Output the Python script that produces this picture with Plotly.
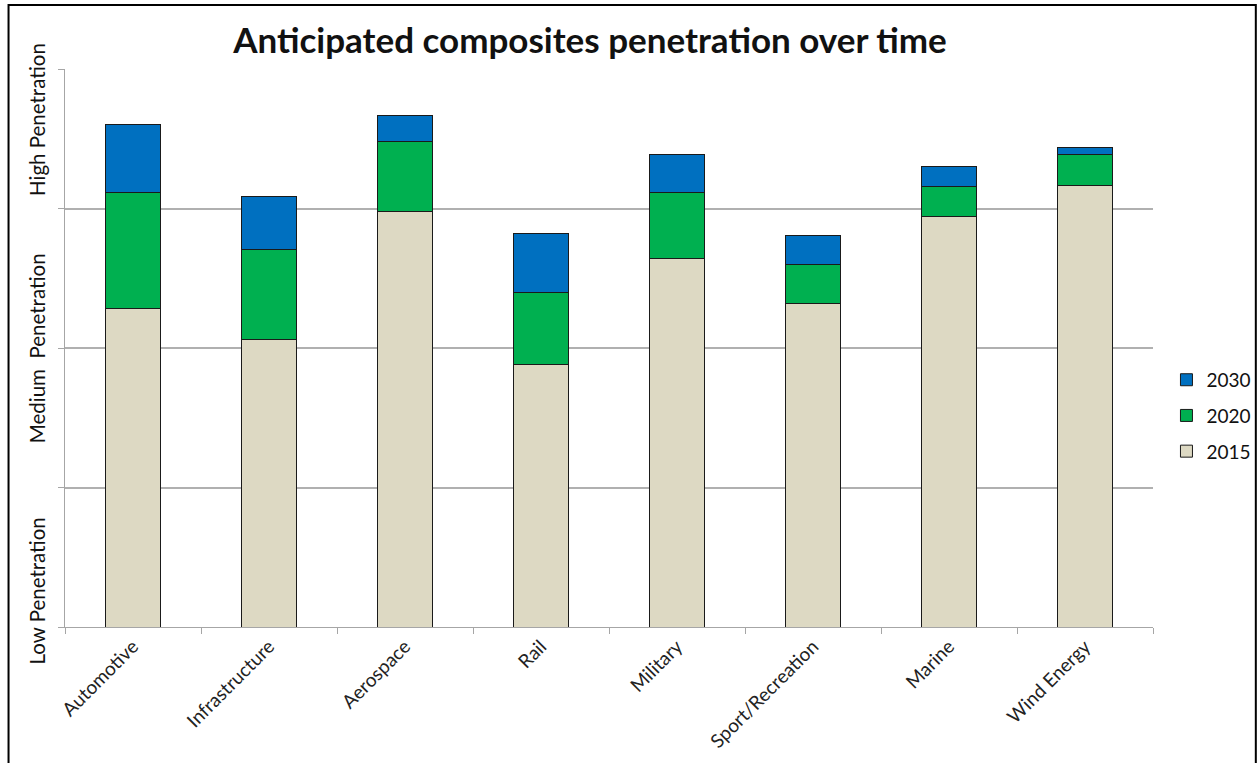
import plotly.graph_objects as go

# Sectors and estimated penetration levels (0 = low, 100 = high)
sectors = ["Automotive", "Infrastructure", "Aerospace", "Rail", "Military",
           "Sport/Recreation", "Marine", "Wind Energy"]
level_2015 = [57.0, 51.6, 74.5, 47.0, 66.0, 58.0, 73.6, 79.1]
gain_2020 = [20.9, 16.0, 12.5, 13.0, 11.9, 6.9, 5.4, 5.5]
gain_2030 = [12.2, 9.5, 4.6, 10.6, 6.8, 5.2, 3.5, 1.3]

# (name, values, colour, legend rank) - newest year listed first
series = [
    ("2015", level_2015, "#DDD9C3", 3),
    ("2020", gain_2020, "#00B050", 2),
    ("2030", gain_2030, "#0070C0", 1),
]

FONT = "Lato"

fig = go.Figure()
for name, vals, color, rank in series:
    fig.add_trace(go.Bar(
        x=sectors, y=vals, name=name, legendgroup=name, legendrank=rank,
        marker=dict(color=color, line=dict(color="#1a1a1a", width=1)),
        width=0.41,
    ))

fig.update_layout(
    width=1259, height=763,
    barmode="stack",
    paper_bgcolor="white", plot_bgcolor="white",
    margin=dict(l=65, r=106, t=69, b=136, autoexpand=False),
    font=dict(family=FONT, color="#222222"),
    title=dict(text="<b>Anticipated composites penetration over time</b>",
               x=0.4686, xanchor="center", y=0.946, yanchor="middle",
               font=dict(family=FONT, size=35, color="#111111")),
    legend=dict(xref="container", yref="container",
                x=0.9265, xanchor="left", y=0.527, yanchor="top",
                traceorder="grouped", tracegroupgap=8,
                font=dict(family=FONT, size=19, color="#111111"),
                bgcolor="rgba(0,0,0,0)"),
    showlegend=True,
)

fig.update_xaxes(
    showline=True, linecolor="#A6A6A6", linewidth=1,
    ticks="outside", tickson="boundaries", ticklen=6, tickcolor="#A6A6A6",
    tickangle=-45, tickfont=dict(family=FONT, size=19, color="#222222"),
    showgrid=False,
)
fig.update_yaxes(
    range=[0, 100], dtick=25, tick0=0,
    showline=True, linecolor="#A6A6A6", linewidth=1,
    ticks="outside", ticklen=6, tickcolor="#A6A6A6",
    showticklabels=False,
    showgrid=True, gridcolor="#B0B0B0", gridwidth=1.5,
    zeroline=False,
)

# Qualitative y-axis labels
for text, yv in [("High Penetration", 90.9), ("Medium  Penetration", 50.0),
                 ("Low Penetration", 6.4)]:
    fig.add_annotation(text=text, xref="paper", yref="y", x=-0.0255, y=yv,
                       textangle=-90, showarrow=False, xanchor="center",
                       yanchor="middle",
                       font=dict(family=FONT, size=20.5, color="#111111"))

# Chart frame
fig.add_shape(type="rect", xref="paper", yref="paper",
              x0=-0.0519, x1=1.0945, y0=-0.26, y1=1.1147,
              line=dict(color="black", width=2), fillcolor="rgba(0,0,0,0)",
              layer="above")

fig.write_html("out.html")
